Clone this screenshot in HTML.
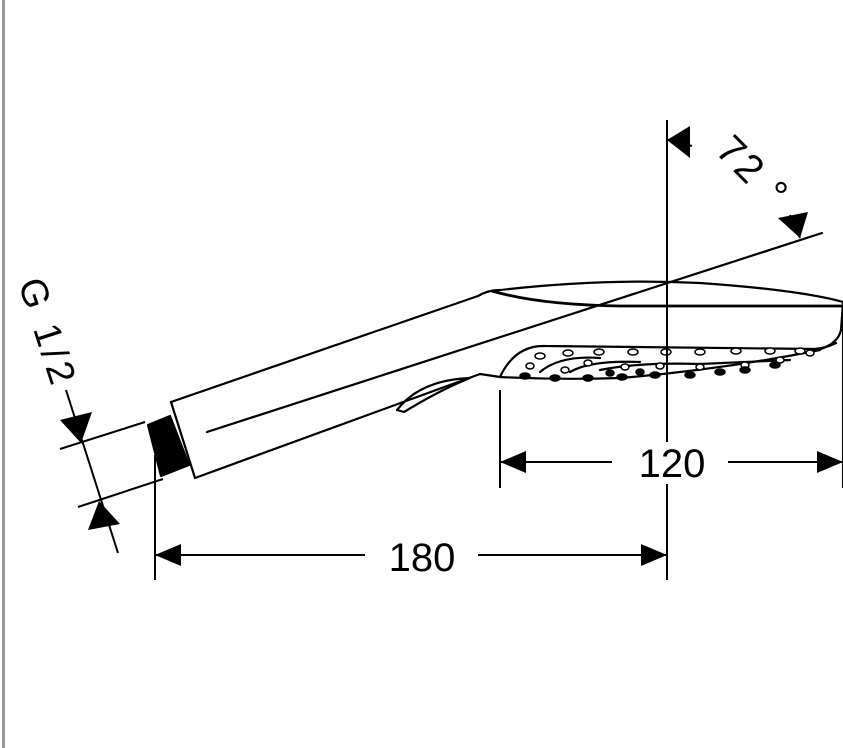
<!DOCTYPE html>
<html><head><style>
html,body{margin:0;padding:0;background:#fff;}
svg{display:block;}
text{font-family:"Liberation Sans",sans-serif;fill:#000;}
</style></head><body>
<svg width="843" height="748" viewBox="0 0 843 748" xmlns="http://www.w3.org/2000/svg">
<rect x="2" y="0" width="3" height="748" fill="#999"/>
<g stroke="#000" stroke-width="2.2" fill="none" stroke-linecap="round" stroke-linejoin="round">
<path d="M171,402 L478,296 Q488,290 500,290"/>
<path d="M171,402 L195,478 L480,374"/>
<path d="M207,432 L822,233"/>
<path d="M397,410 Q420,380 470,378 Q440,390 404,412 Z"/>
<path d="M148,425 L170,416 L189,465 L161,476 Z" fill="#000"/>
<path d="M492,291 Q600,278 700,283 Q800,290 843,302"/>
<path d="M492,291 Q540,305 620,306 L843,306" stroke-width="2.8"/>
<path d="M843,303 L841,330 Q838,344 818,350"/>
<path d="M480,374 L500,377 Q515,345 545,346 L815,349 Q826,348 836,343"/>
<path d="M500,377 Q560,380 620,378 Q720,370 820,350"/>
<path d="M540,372 Q560,355 600,358 M570,372 Q590,360 640,362 M600,370 Q640,362 700,364 L790,360"/>
</g>
<g fill="#000" stroke="#000" stroke-width="1.5">
<g fill="#fff">
<ellipse cx="540" cy="356" rx="5" ry="3"/><ellipse cx="568" cy="353" rx="5" ry="3"/><ellipse cx="599" cy="352" rx="5" ry="3"/><ellipse cx="633" cy="352" rx="5" ry="3"/><ellipse cx="666" cy="352" rx="5" ry="3"/><ellipse cx="700" cy="352" rx="5" ry="3"/><ellipse cx="736" cy="351" rx="5" ry="3"/><ellipse cx="770" cy="351" rx="5" ry="3"/><ellipse cx="800" cy="351" rx="5" ry="3"/>
<ellipse cx="530" cy="366" rx="4" ry="3"/><ellipse cx="565" cy="370" rx="4" ry="3"/><ellipse cx="588" cy="363" rx="4" ry="3"/><ellipse cx="625" cy="367" rx="4" ry="3"/><ellipse cx="660" cy="366" rx="4" ry="3"/><ellipse cx="700" cy="367" rx="4" ry="3"/><ellipse cx="745" cy="365" rx="4" ry="3"/><ellipse cx="780" cy="360" rx="4" ry="3"/><ellipse cx="810" cy="353" rx="4" ry="3"/>
</g>
<ellipse cx="525" cy="376" rx="5" ry="3"/><ellipse cx="555" cy="378" rx="5" ry="3"/><ellipse cx="588" cy="378" rx="5" ry="3"/><ellipse cx="622" cy="377" rx="5" ry="3"/><ellipse cx="655" cy="375" rx="5" ry="3"/><ellipse cx="690" cy="375" rx="5" ry="3"/><ellipse cx="720" cy="372" rx="5" ry="3"/><ellipse cx="745" cy="370" rx="5" ry="3"/><ellipse cx="775" cy="365" rx="5" ry="3"/><ellipse cx="640" cy="372" rx="4" ry="3"/><ellipse cx="610" cy="373" rx="4" ry="3"/>
</g>
<g stroke="#000" stroke-width="2" fill="none">
<line x1="667" y1="120" x2="667" y2="442"/>
<line x1="667" y1="484" x2="667" y2="580"/>
<line x1="500" y1="390" x2="500" y2="488"/>
<line x1="843" y1="306" x2="843" y2="488"/>
<line x1="500" y1="462" x2="612" y2="462"/>
<line x1="728" y1="462" x2="843" y2="462"/>
<line x1="155" y1="455" x2="155" y2="580"/>
<line x1="155" y1="555" x2="365" y2="555"/>
<line x1="478" y1="555" x2="667" y2="555"/>
<line x1="60" y1="449" x2="145" y2="422"/>
<line x1="78" y1="507" x2="163" y2="479"/>
<line x1="66" y1="390" x2="118" y2="553"/>
<line x1="668" y1="140" x2="692" y2="146"/>
<line x1="790" y1="215" x2="800" y2="238"/>
</g>
<g fill="#000">
<polygon points="500,462 526,451 526,473"/>
<polygon points="843,462 817,451 817,473"/>
<polygon points="155,555 181,544 181,566"/>
<polygon points="667,555 641,544 641,566"/>
<polygon points="81,443 60,420 92,412"/>
<polygon points="99,501 88,530 120,524"/>
<polygon points="667,140 690,126 690,158"/>
<polygon points="800,238 778,218 808,212"/>
</g>
<text x="672" y="477" font-size="40" text-anchor="middle">120</text>
<text x="422" y="571" font-size="40" text-anchor="middle">180</text>
<text transform="translate(18,283) rotate(72)" font-size="38" letter-spacing="4">G 1/2</text>
<text transform="translate(714,152) rotate(45)" font-size="40" letter-spacing="3">72 °</text>
</svg>
</body></html>
